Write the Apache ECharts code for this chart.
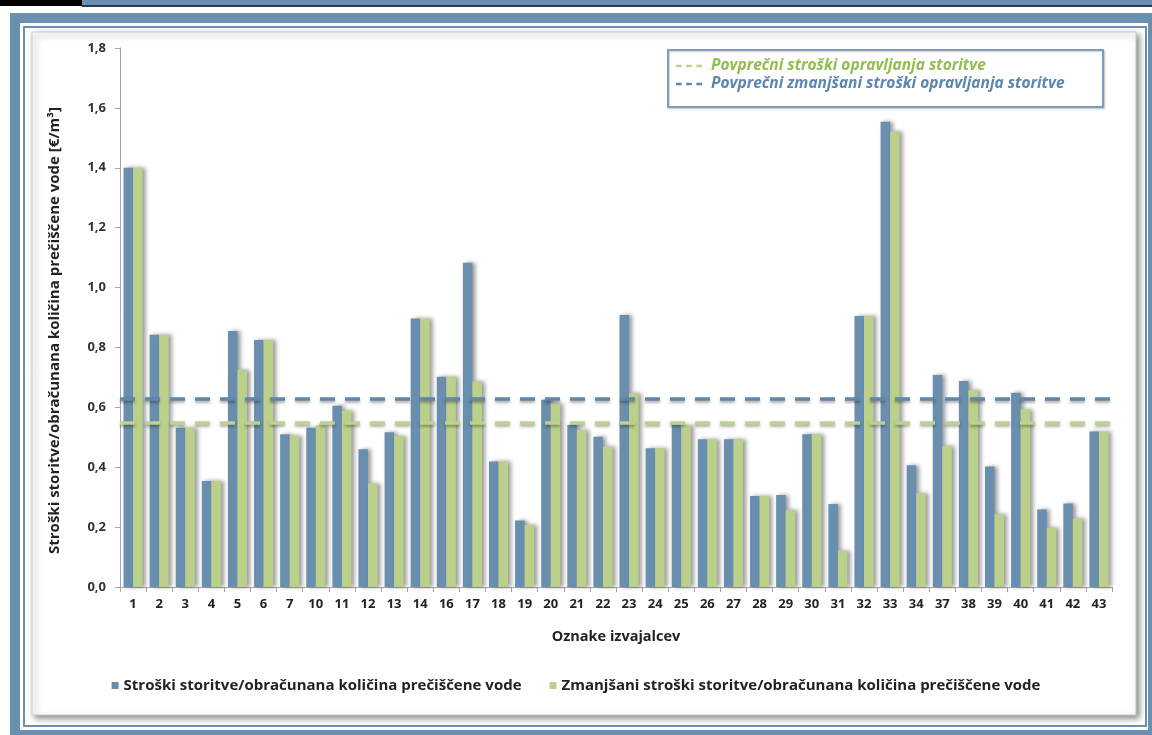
<!DOCTYPE html>
<html>
<head>
<meta charset="utf-8">
<script src="https://cdn.jsdelivr.net/npm/echarts@6/dist/echarts.min.js"></script>
<style>
  html, body { margin: 0; padding: 0; background: #ffffff; }
  #chart { width: 1152px; height: 735px; }
</style>
</head>
<body>
<div id="chart"></div>
<script>
// oznake izvajalcev
const categories = ['1', '2', '3', '4', '5', '6', '7', '10', '11', '12', '13', '14', '16', '17', '18', '19', '20',
  '21', '22', '23', '24', '25', '26', '27', '28', '29', '30', '31', '32', '33', '34', '37', '38', '39', '40', '41', '42', '43'];

// stroški storitve / obračunana količina prečiščene vode [€/m3]
const costs = [1.40, 0.842, 0.532, 0.354, 0.855, 0.825, 0.51, 0.532, 0.605, 0.46, 0.517, 0.897, 0.702, 1.083, 0.419,
  0.222, 0.625, 0.541, 0.502, 0.908, 0.463, 0.541, 0.493, 0.493, 0.304, 0.307, 0.51, 0.277, 0.905, 1.554, 0.407,
  0.708, 0.688, 0.402, 0.649, 0.259, 0.279, 0.519];

// zmanjšani stroški storitve
const reducedCosts = [1.40, 0.842, 0.532, 0.354, 0.725, 0.825, 0.505, 0.54, 0.589, 0.346, 0.504, 0.897, 0.702, 0.686,
  0.419, 0.207, 0.613, 0.524, 0.469, 0.647, 0.463, 0.541, 0.493, 0.493, 0.304, 0.257, 0.51, 0.121, 0.905, 1.521,
  0.313, 0.471, 0.658, 0.243, 0.593, 0.198, 0.229, 0.519];

// povprečja (vodoravni črtkani črti)
const avgCost = 0.548;
const avgReducedCost = 0.628;

const yTicks = { min: 0, max: 1.8, interval: 0.2 };

const BLUE = '#6a8eae';
const GREEN = '#bbd18b';
const FONT = 'Open Sans';

const chart = echarts.init(document.getElementById('chart'));

// okvir okrog grafa + okvir zgornje legende
const frame = [
  { type: 'rect', shape: { x: 0, y: 0, width: 82, height: 6 }, style: { fill: '#000' } },
  { type: 'rect', shape: { x: 82, y: 0, width: 1070, height: 6 }, style: { fill: '#6b8fb0' } },
  { type: 'rect', shape: { x: 82, y: 5, width: 1070, height: 2 }, style: { fill: '#2b3a48' } },
  { type: 'rect', shape: { x: 10, y: 13, width: 1160, height: 740 }, style: { fill: '#6b8fb0' } },
  { type: 'rect', shape: { x: 20, y: 23, width: 1128, height: 707 }, style: { fill: '#fff' } },
  { type: 'rect', shape: { x: 24, y: 27, width: 1122, height: 699 }, style: { fill: '#fff', stroke: '#6b8fb0', lineWidth: 2 } },
  { type: 'rect', shape: { x: 32, y: 32, width: 1104, height: 683 },
    style: { fill: '#fff', stroke: '#c8c8c8', lineWidth: 1, shadowBlur: 6, shadowColor: 'rgba(0,0,0,0.45)', shadowOffsetX: 3, shadowOffsetY: 3 } }
];

const legendBox = {
  type: 'rect', z: 1, silent: true,
  shape: { x: 668, y: 50, width: 435, height: 57 },
  style: { fill: '#fff', stroke: '#7d9dbd', lineWidth: 2, shadowBlur: 2, shadowColor: 'rgba(0,0,0,0.2)', shadowOffsetX: 1, shadowOffsetY: 1 }
};

const option = {
  backgroundColor: '#fff',
  animation: false,
  graphic: { elements: frame.map(e => Object.assign({ z: -10, silent: true }, e)).concat([legendBox]) },
  textStyle: { fontFamily: FONT },
  grid: { left: 120, right: 40, top: 48, bottom: 148 },
  legend: [
    {
      bottom: 37,
      left: 'center',
      itemWidth: 7,
      itemHeight: 7,
      itemGap: 28,
      icon: 'rect',
      data: ['Stroški storitve/obračunana količina prečiščene vode', 'Zmanjšani stroški storitve/obračunana količina prečiščene vode'],
      textStyle: { fontFamily: FONT, fontWeight: 'bold', fontSize: 15, color: '#222' }
    },
    {
      orient: 'vertical',
      left: 676,
      top: 58,
      padding: 0,
      itemGap: 2,
      itemWidth: 26,
      itemHeight: 3,
      z: 5,
      icon: 'path://M0,0h5v2h-5z M9,0h5v2h-5z M18,0h5v2h-5z',
      data: [
        { name: 'Povprečni stroški opravljanja storitve', textStyle: { color: '#92bd4e' } },
        { name: 'Povprečni zmanjšani stroški opravljanja storitve', textStyle: { color: '#5b86b0' } }
      ],
      textStyle: { fontFamily: FONT, fontWeight: 'bold', fontStyle: 'italic', fontSize: 15.5, padding: [0, 0, 0, 4] }
    }
  ],
  xAxis: {
    type: 'category',
    data: categories,
    name: 'Oznake izvajalcev',
    nameLocation: 'middle',
    nameGap: 42,
    nameTextStyle: { fontFamily: FONT, fontWeight: 'bold', fontSize: 14.5, color: '#222' },
    axisLine: { lineStyle: { color: '#a6a6a6' } },
    axisTick: { show: true, length: 5, lineStyle: { color: '#a6a6a6' } },
    axisLabel: { fontFamily: FONT, fontWeight: 'bold', fontSize: 13, color: '#222', margin: 11, interval: 0 }
  },
  yAxis: {
    type: 'value',
    min: yTicks.min,
    max: yTicks.max,
    interval: yTicks.interval,
    name: 'Stroški storitve/obračunana količina prečiščene vode [€/m³]',
    nameLocation: 'middle',
    nameGap: 58,
    nameTextStyle: { fontFamily: FONT, fontWeight: 'bold', fontSize: 15, color: '#222', padding: [0, 26, 0, 0] },
    axisLine: { show: true, lineStyle: { color: '#a6a6a6' } },
    axisTick: { show: true, length: 5, lineStyle: { color: '#a6a6a6' } },
    splitLine: { show: false },
    axisLabel: {
      fontFamily: FONT, fontWeight: 'bold', fontSize: 13, color: '#333', margin: 14,
      formatter: v => v.toFixed(1).replace('.', ',')
    }
  },
  series: [
    {
      name: 'Stroški storitve/obračunana količina prečiščene vode',
      type: 'bar',
      data: costs,
      barGap: '0%',
      barCategoryGap: '27%',
      itemStyle: { color: BLUE, shadowColor: 'rgba(0,0,0,0.4)', shadowBlur: 4, shadowOffsetX: 3 }
    },
    {
      name: 'Zmanjšani stroški storitve/obračunana količina prečiščene vode',
      type: 'bar',
      data: reducedCosts,
      itemStyle: { color: GREEN, shadowColor: 'rgba(0,0,0,0.4)', shadowBlur: 4, shadowOffsetX: 3 }
    },
    {
      name: 'Povprečni stroški opravljanja storitve',
      type: 'line',
      data: [],
      color: '#bcd38c',
      z: 5,
      markLine: {
        silent: true,
        symbol: 'none',
        label: { show: false },
        lineStyle: { color: '#bcd38c', width: 3.5, type: [15, 10], shadowColor: 'rgba(0,0,0,0.35)', shadowBlur: 3, shadowOffsetY: 2 },
        data: [{ yAxis: avgCost }]
      }
    },
    {
      name: 'Povprečni zmanjšani stroški opravljanja storitve',
      type: 'line',
      data: [],
      color: '#5f87ab',
      z: 5,
      markLine: {
        silent: true,
        symbol: 'none',
        label: { show: false },
        lineStyle: { color: '#5f87ab', width: 3.5, type: [15, 10], shadowColor: 'rgba(0,0,0,0.35)', shadowBlur: 3, shadowOffsetY: 2 },
        data: [{ yAxis: avgReducedCost }]
      }
    }
  ]
};

chart.setOption(option);
</script>
</body>
</html>
